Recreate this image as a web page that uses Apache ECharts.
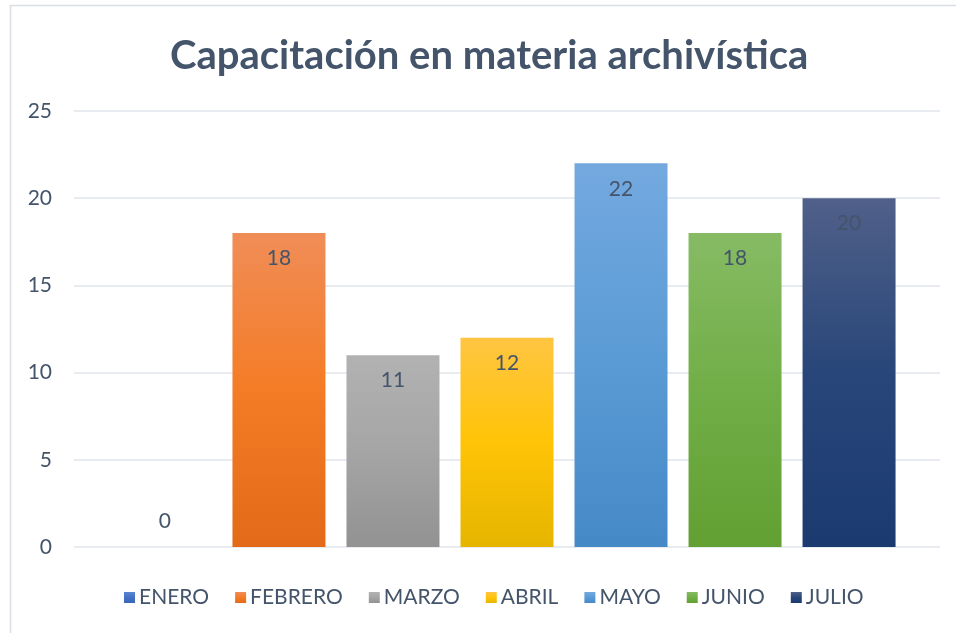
<!DOCTYPE html>
<html>
<head>
<meta charset="utf-8">
<script src="https://cdn.jsdelivr.net/npm/echarts@6/dist/echarts.min.js"></script>
<style>html,body{margin:0;padding:0;background:#fff}#c{width:956px;height:633px}</style>
</head>
<body>
<div id="c"></div>
<script>
const titleText = 'Capacitación en materia archivística';
const months = ['ENERO','FEBRERO','MARZO','ABRIL','MAYO','JUNIO','JULIO'];
const values = [0, 18, 11, 12, 22, 18, 20];
const yTicks = [0, 5, 10, 15, 20, 25];
const colorStops = [
  ['#5A86D2','#4472C4','#3A66B6'],
  ['#F08D57','#F47C26','#E36A18'],
  ['#B2B2B2','#A5A5A5','#929292'],
  ['#FFC542','#FFC406','#E6B500'],
  ['#73A9DF','#5B9BD5','#4589C7'],
  ['#86BB64','#71AE47','#62A033'],
  ['#506089','#284679','#1B3A70']
];
const FONT = 'Lato, "Open Sans", sans-serif';
const TXT = '#44546A';

const chart = echarts.init(document.getElementById('c'), null, {renderer:'canvas'});
const series = months.map((m, i) => ({
  name: m,
  type: 'bar',
  data: [values[i]],
  barWidth: 93,
  barGap: '22.6%',
  itemStyle: {
    color: new echarts.graphic.LinearGradient(0,0,0,1,[
      {offset:0,color:colorStops[i][0]},
      {offset:0.5,color:colorStops[i][1]},
      {offset:1,color:colorStops[i][2]}
    ])
  },
  label: {
    show: true,
    position: values[i] === 0 ? 'top' : 'insideTop',
    distance: 15,
    color: TXT,
    fontSize: 21,
    fontFamily: FONT
  },
  emphasis: {disabled: true}
}));

chart.setOption({
  animation: false,
  backgroundColor: '#fff',
  title: {
    text: titleText,
    left: 165,
    top: 31,
    textStyle: {fontSize: 40, fontWeight: 'bold', color: TXT, fontFamily: FONT}
  },
  legend: {
    data: months,
    bottom: 20,
    left: 119,
    icon: 'rect',
    itemWidth: 11,
    itemHeight: 11,
    itemGap: 26,
    textStyle: {fontSize: 21, color: TXT, fontFamily: FONT, padding: [0,0,0,-1]}
  },
  grid: {left: 74, right: 16, top: 111, bottom: 86},
  xAxis: {
    type: 'category',
    data: [''],
    axisLine: {show: false},
    axisTick: {show: false},
    axisLabel: {show: false}
  },
  yAxis: {
    type: 'value',
    min: yTicks[0],
    max: yTicks[yTicks.length-1],
    interval: yTicks[1]-yTicks[0],
    axisLine: {show: false},
    axisTick: {show: false},
    axisLabel: {color: TXT, fontSize: 21, fontFamily: FONT, margin: 22},
    splitLine: {lineStyle: {color: '#E1E4EA', width: 1.5}}
  },
  graphic: [{
    type: 'rect',
    shape: {x: 10.5, y: 5.5, width: 960, height: 640},
    style: {fill: 'none', stroke: '#D9DEE5', lineWidth: 1.5},
    silent: true
  }],
  series: series
});
</script>
</body>
</html>
